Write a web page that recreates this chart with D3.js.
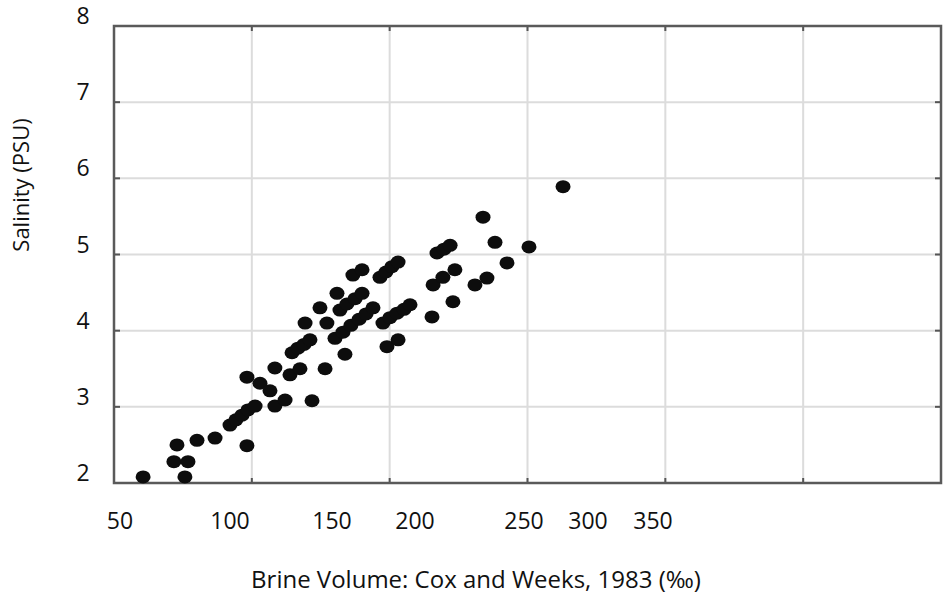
<!DOCTYPE html>
<html>
<head>
<meta charset="utf-8">
<script src="https://cdn.jsdelivr.net/npm/d3@7"></script>
<style>
  body { margin: 0; background: #fff; }
  svg text { font-family: "Open Sans", sans-serif; fill: #111; }
</style>
</head>
<body>
<div id="chart"></div>
<script>
// data
var xTickValues = [50, 100, 150, 200, 250, 300, 350];
var yTickValues = [2, 3, 4, 5, 6, 7, 8];

var brineVolume = [
    60.5, 79.5, 74.5, 80.9, 75.9, 85.0, 93.2, 108.3,
    100.0, 102.9, 105.9, 108.8, 112.3,
    108.3, 114.7, 119.6, 122.0, 122.0, 127.0, 129.4, 134.3, 140.2,
    130.4, 133.3, 136.3, 139.2,
    136.8, 144.1, 147.5, 146.6, 157.8,
    151.8, 156.6, 161.4, 166.3, 170.5, 174.7,
    154.8, 159.0, 163.9, 168.1,
    153.0, 162.6, 168.1,
    178.9, 182.5, 186.1, 189.8,
    180.7, 184.9, 189.2, 193.4, 197.0,
    183.1, 189.8, 207.8,
    208.3, 212.8, 218.3, 217.4,
    210.1, 213.3, 216.1,
    227.5, 233.0, 242.2, 236.7, 231.2, 253.9, 280.5
];
var salinity = [
    2.08, 2.08, 2.28, 2.28, 2.50, 2.56, 2.59, 2.49,
    2.76, 2.83, 2.89, 2.96, 3.01,
    3.39, 3.31, 3.21, 3.51, 3.01, 3.09, 3.42, 3.50, 3.08,
    3.71, 3.77, 3.82, 3.88,
    4.10, 4.30, 4.10, 3.50, 3.69,
    3.90, 3.98, 4.07, 4.15, 4.22, 4.30,
    4.27, 4.35, 4.42, 4.49,
    4.49, 4.73, 4.80,
    4.70, 4.77, 4.84, 4.90,
    4.10, 4.17, 4.23, 4.28, 4.34,
    3.79, 3.88, 4.18,
    4.60, 4.70, 4.80, 4.38,
    5.02, 5.07, 5.12,
    4.60, 4.69, 4.89, 5.16, 5.49, 5.10, 5.89
];

(function() {
    var width = 943, height = 604;
    var plot = {left: 114, right: 941, top: 26, bottom: 483};
    var gridCount = 6;
    // the printed x labels are not evenly spaced, so the axis is piecewise
    var xLabelPos = [120, 230, 332, 415, 524, 588, 653];

    var points = brineVolume.map(function(v, i) { return [v, salinity[i]]; });

    var x = d3.scaleLinear().domain(xTickValues).range(xLabelPos);
    var y = d3.scaleLinear().domain([2, 8]).range([plot.bottom, plot.top]);
    var g = d3.scaleLinear().domain([0, gridCount]).range([plot.left, plot.right]);

    var svg = d3.select('#chart').append('svg')
        .attr('width', width)
        .attr('height', height);

    // grid
    svg.append('g').selectAll('line')
        .data(d3.range(1, gridCount))
        .enter().append('line')
        .attr('x1', function(d) { return g(d); })
        .attr('x2', function(d) { return g(d); })
        .attr('y1', plot.top).attr('y2', plot.bottom)
        .attr('stroke', '#dcdcdc').attr('stroke-width', 2);

    svg.append('g').selectAll('line')
        .data(yTickValues.slice(1, -1))
        .enter().append('line')
        .attr('x1', plot.left).attr('x2', plot.right)
        .attr('y1', function(d) { return y(d); })
        .attr('y2', function(d) { return y(d); })
        .attr('stroke', '#dcdcdc').attr('stroke-width', 2);

    // inner tick marks on all four sides
    var tk = svg.append('g').attr('stroke', '#555').attr('stroke-width', 2);
    d3.range(1, gridCount).forEach(function(d) {
        tk.append('line').attr('x1', g(d)).attr('x2', g(d)).attr('y1', plot.top).attr('y2', plot.top + 5);
        tk.append('line').attr('x1', g(d)).attr('x2', g(d)).attr('y1', plot.bottom).attr('y2', plot.bottom - 5);
    });
    yTickValues.slice(1, -1).forEach(function(d) {
        tk.append('line').attr('x1', plot.left).attr('x2', plot.left + 6).attr('y1', y(d)).attr('y2', y(d));
        tk.append('line').attr('x1', plot.right).attr('x2', plot.right - 6).attr('y1', y(d)).attr('y2', y(d));
    });

    // frame
    svg.append('rect')
        .attr('x', plot.left).attr('y', plot.top)
        .attr('width', plot.right - plot.left).attr('height', plot.bottom - plot.top)
        .attr('fill', 'none')
        .attr('stroke', '#5a5a5a')
        .attr('stroke-width', 2.5);

    // points
    svg.append('g').selectAll('ellipse')
        .data(points)
        .enter().append('ellipse')
        .attr('cx', function(d) { return x(d[0]); })
        .attr('cy', function(d) { return y(d[1]); })
        .attr('rx', 7.5)
        .attr('ry', 6.5)
        .attr('fill', '#0d0d0d');

    // tick labels
    svg.append('g').selectAll('text')
        .data(yTickValues)
        .enter().append('text')
        .attr('x', 83)
        .attr('y', function(d) { return y(d) - 2; })
        .attr('text-anchor', 'middle')
        .style('font-size', '23px')
        .text(function(d) { return d; });

    svg.append('g').selectAll('text')
        .data(xTickValues)
        .enter().append('text')
        .attr('x', function(d) { return x(d); })
        .attr('y', 529)
        .attr('text-anchor', 'middle')
        .style('font-size', '23px')
        .text(function(d) { return d; });

    // axis titles
    svg.append('text')
        .attr('x', 476).attr('y', 588)
        .attr('text-anchor', 'middle')
        .style('font-size', '24px')
        .text('Brine Volume: Cox and Weeks, 1983 (‰)');

    svg.append('text')
        .attr('transform', 'translate(29,185) rotate(-90)')
        .attr('text-anchor', 'middle')
        .style('font-size', '22px')
        .text('Salinity (PSU)');
})();
</script>
</body>
</html>
